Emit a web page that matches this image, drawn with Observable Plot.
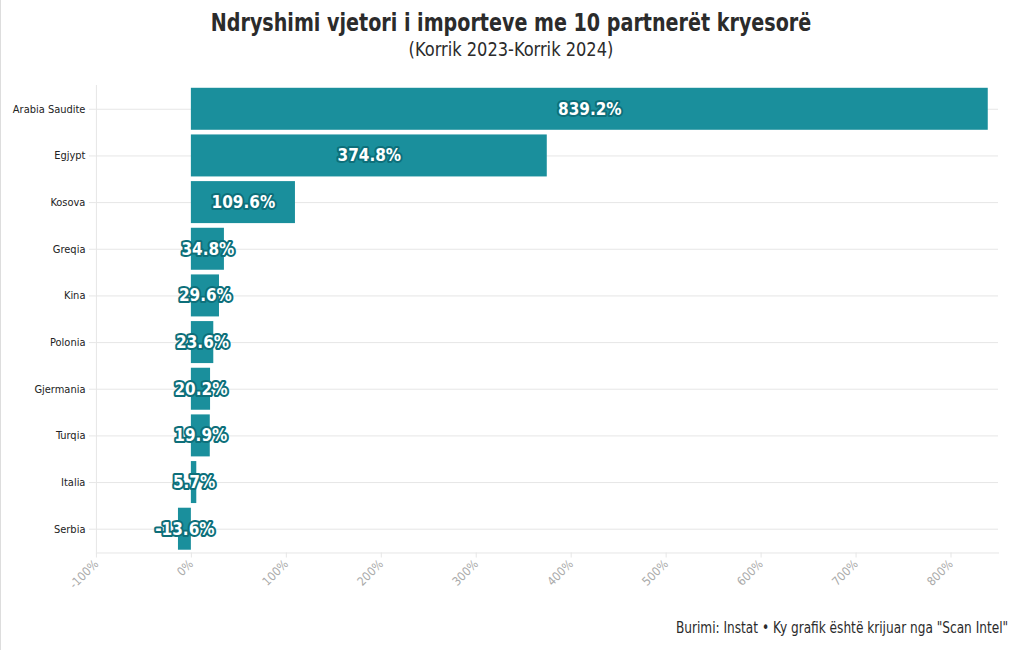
<!DOCTYPE html>
<html>
<head>
<meta charset="utf-8">
<script src="https://cdn.jsdelivr.net/npm/d3@7"></script>
<script src="https://cdn.jsdelivr.net/npm/@observablehq/plot@0.6"></script>
<style>
  html, body { margin: 0; padding: 0; background: #fff; }
  body { width: 1020px; height: 650px; position: relative; overflow: hidden;
         font-family: "DejaVu Sans Condensed", "Roboto", sans-serif;
         border-left: 1px solid #ddd; box-sizing: border-box; }
  #title { position: absolute; top: 8px; left: 0; width: 1020px; text-align: center;
           font-size: 25px; font-weight: bold; color: #2b2b2b; transform: scaleX(0.85); transform-origin: 510px 0; }
  #subtitle { position: absolute; top: 38px; left: 0; width: 1020px; text-align: center;
              font-size: 19px; color: #2b2b2b; transform: scaleX(0.95); transform-origin: 510px 0; }
  #chart { position: absolute; top: 70px; left: 0; }
  #caption { position: absolute; top: 619px; right: 12px; font-size: 15px; color: #2b2b2b;
             transform: scaleX(0.9); transform-origin: 100% 0; white-space: nowrap; }
</style>
</head>
<body>
<div id="title">Ndryshimi vjetori i importeve me 10 partnerët kryesorë</div>
<div id="subtitle">(Korrik 2023-Korrik 2024)</div>
<div id="chart"></div>
<div id="caption">Burimi: Instat • Ky grafik është krijuar nga "Scan Intel"</div>
<script>
const countries = ["Arabia Saudite", "Egjypt", "Kosova", "Greqia", "Kina", "Polonia", "Gjermania", "Turqia", "Italia", "Serbia"];
const changes = [839.2, 374.8, 109.6, 34.8, 29.6, 23.6, 20.2, 19.9, 5.7, -13.6];
const xTicks = [-100, 0, 100, 200, 300, 400, 500, 600, 700, 800];

const data = countries.map((c, i) => ({country: c, value: changes[i]}));
const font = '"DejaVu Sans Condensed", "Roboto", sans-serif';

const chart = Plot.plot({
  width: 1020,
  height: 545,
  marginTop: 15,
  marginBottom: 62,
  marginLeft: 95,
  marginRight: 22,
  style: { fontFamily: font, background: "#fff" },
  x: { domain: [-100, 850], ticks: xTicks, tickFormat: d => d + "%", label: null },
  y: { domain: countries, label: null, paddingInner: 0.1, paddingOuter: 0.06, round: false },
  marks: [
    Plot.gridY({ stroke: "#e6e6e6", strokeOpacity: 1 }),
    Plot.ruleX([-100], { stroke: "#e6e6e6", strokeOpacity: 1 }),
    Plot.frame({ anchor: "bottom", stroke: "#e6e6e6", strokeOpacity: 1 }),
    Plot.axisX({ ticks: xTicks, tickFormat: d => d + "%", tickRotate: -45, tickSize: 5,
                 stroke: "#e6e6e6", fill: "#aaa", fontSize: 12, label: null, tickPadding: 4 }),
    Plot.axisY({ tickSize: 7, stroke: "#e6e6e6", fill: "#222", fontSize: 11, label: null, tickPadding: 4 }),
    Plot.barX(data, { x: "value", y: "country", fill: "#1a8f9c" }),
    Plot.text(data, { x: d => d.value / 2, y: "country", text: d => d.value.toFixed(1) + "%",
                      fill: "#fff", stroke: "#0d6f7a", strokeWidth: 4, paintOrder: "stroke",
                      strokeLinejoin: "round", fontSize: 17, fontWeight: "bold" })
  ]
});
document.getElementById("chart").appendChild(chart);
</script>
</body>
</html>
